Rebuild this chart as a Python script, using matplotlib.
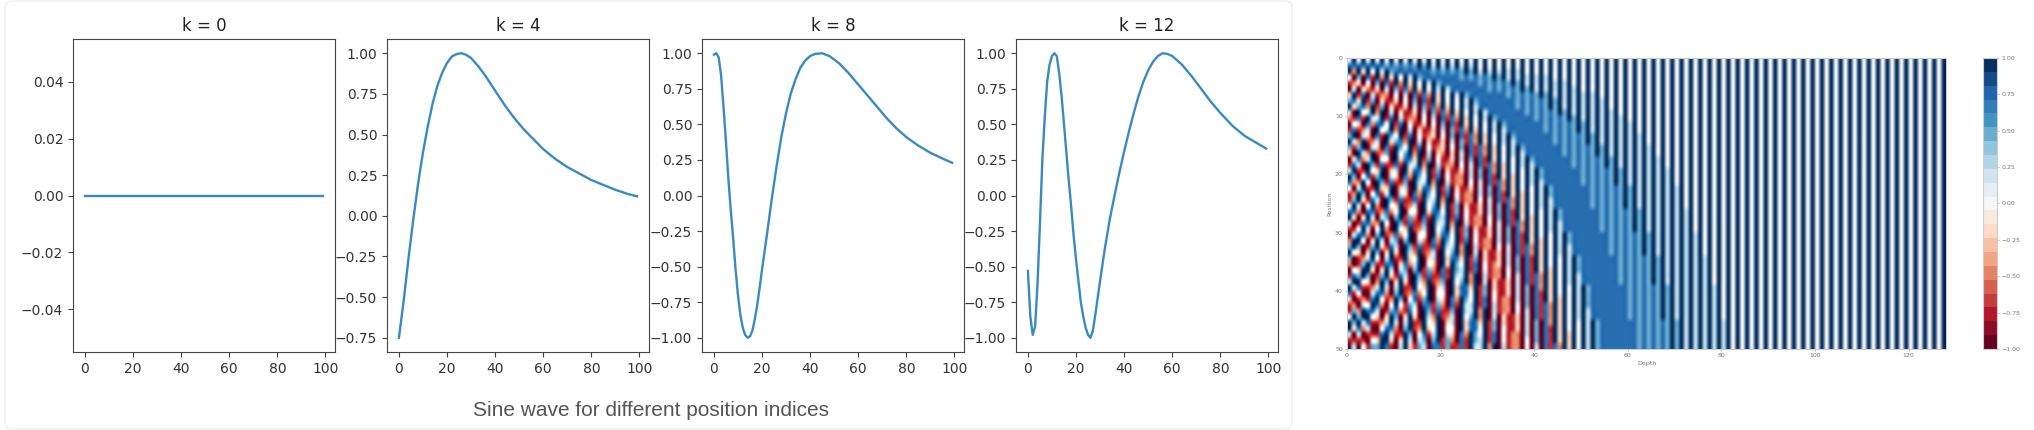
#!/usr/bin/env python
import numpy as np
import matplotlib
matplotlib.use("Agg")
import matplotlib.pyplot as plt
from matplotlib.cm import ScalarMappable
from matplotlib.colors import Normalize
from matplotlib.patches import FancyBboxPatch
from matplotlib.transforms import IdentityTransform

W, H = 2034, 430

# curves
x0 = [0, 99]
y0 = [0, 0]

x4 = [0, 2, 4, 6, 8, 10, 12, 14, 16, 18, 20, 22, 24, 26, 28, 30, 33, 36, 40, 44, 48, 52, 56, 60, 65, 70, 75, 80, 85, 90, 95, 99]
y4 = [-.75, -.52, -.26, -.02, .2, .39, .55, .69, .8, .88, .94, .98, .995, 1.0, .99, .97, .92, .86, .77, .68, .6, .53, .47, .41, .35, .3, .26, .22, .19, .16, .135, .12]

x8 = [0, 1, 2, 3, 4, 5, 6, 7, 8, 9, 10, 11, 12, 13, 14, 15, 16, 17, 18, 19, 20, 22, 24, 26, 28, 30, 32, 34, 36, 38, 40, 42, 45, 48, 52, 56, 60, 64, 68, 72, 76, 80, 85, 90, 95, 99]
y8 = [.99, 1, .97, .84, .62, .38, .12, -.1, -.3, -.52, -.7, -.84, -.93, -.98, -1, -.99, -.95, -.87, -.77, -.65, -.52, -.28, -.03, .2, .41, .58, .72, .82, .9, .95, .98, .995, 1, .98, .93, .86, .78, .7, .62, .54, .47, .41, .35, .3, .26, .23]

x12 = [0, 1, 2, 3, 4, 5, 6, 7, 8, 9, 10, 11, 12, 13, 14, 15, 16, 17, 18, 19, 20, 21, 22, 23, 24, 25, 26, 27, 28, 29, 30, 32, 34, 36, 38, 40, 42, 44, 46, 48, 50, 52, 54, 56, 58, 60, 64, 68, 72, 76, 80, 85, 90, 95, 99]
y12 = [-.53, -.85, -.98, -.92, -.62, -.2, .25, .55, .8, .92, .98, 1, .98, .86, .7, .5, .3, .1, -.08, -.28, -.45, -.6, -.75, -.85, -.93, -.98, -1, -.95, -.84, -.72, -.6, -.37, -.17, 0, .16, .31, .45, .58, .7, .8, .88, .94, .98, 1, .995, .98, .92, .84, .75, .66, .58, .49, .42, .37, .33]

curves = [("k = 0", x0, y0), ("k = 4", x4, y4), ("k = 8", x8, y8), ("k = 12", x12, y12)]
caption = "Sine wave for different position indices"

# heatmap cells as hand typed codes 0-8 (0 is -1, 4 is 0, 8 is 1), two columns per pair.
# rough estimate of the blurred picture, not an exact cell by cell read: the checker
# area on the left is approximate. each row goes on with band_tail, then white/navy stripes
band_tail = "77 77 77 77 67 67 67 68 68 58 58 58 58 58"
stripe_pair = "48"
heat_first_row = "48"
heat_rows = [
    "",
    "82 83 84 85 86",
    "40 60 71 82 83 84 85 86",
    "12 30 40 60 71 82 83 84 85 86",
    "05 03 21 30 50 61 72 83 84 85 85",
    "38 17 05 12 20 40 50 71 72 83 84 85 86",
    "67 38 16 03 11 30 40 60 71 83 84 84 85 86",
    "83 67 28 16 03 11 30 50 61 72 83 84 85 85",
    "50 84 58 28 05 03 11 30 50 61 72 83 84 85 85",
    "21 71 85 58 17 05 12 20 40 50 71 72 83 84 85 86",
    "04 30 72 77 48 17 04 11 30 40 60 71 83 84 84 85 86",
    "17 12 50 84 58 28 05 03 11 30 50 61 72 83 84 85 85",
    "68 05 30 71 86 48 17 04 12 30 40 60 71 72 83 84 85 86",
    "85 28 12 50 83 67 28 05 03 11 30 50 61 72 83 84 85 85",
    "61 68 05 30 71 86 48 17 04 12 30 40 60 71 72 83 84 85 86",
    "30 85 28 12 60 84 68 28 05 03 20 30 50 71 72 83 84 85 85",
    "03 72 58 04 40 83 77 38 16 04 11 30 50 60 71 83 84 84 85 86",
    "17 50 86 17 11 71 85 58 28 05 12 20 40 50 71 72 83 84 85 85",
    "58 11 84 38 03 50 83 77 38 16 03 11 30 50 60 72 83 84 84 85 86",
    "86 04 71 68 05 30 72 86 48 17 04 12 20 50 60 71 83 83 84 85 86",
    "72 28 40 86 17 11 60 85 58 28 05 12 20 40 50 71 72 83 84 85 85",
    "40 58 11 83 38 03 50 83 77 38 16 03 11 30 50 60 72 83 84 84 85 86",
    "12 86 04 71 58 05 30 72 86 48 17 04 12 20 50 60 71 83 83 84 85 86",
    "16 83 17 50 86 17 11 71 85 58 28 05 12 20 40 50 71 72 83 84 85 85",
    "48 50 48 20 84 38 12 50 84 68 38 16 03 11 30 50 60 72 83 84 85 85",
    "77 20 77 12 72 48 04 40 83 77 48 16 04 11 30 50 60 71 83 84 84 85 86",
    "83 03 85 05 60 68 16 20 71 86 58 17 04 12 20 40 60 71 83 83 84 85 86",
    "50 17 72 28 40 86 17 11 60 85 58 28 05 12 20 40 50 71 72 83 84 85 85",
    "11 48 50 48 20 84 38 12 50 84 68 38 16 03 11 30 50 60 72 83 84 85 85",
    "05 77 20 68 12 72 48 04 40 83 77 48 16 04 11 30 50 60 71 83 84 84 85 86",
    "28 84 03 85 05 60 68 05 20 72 86 48 17 04 12 20 50 60 71 83 83 84 85 86",
    "68 60 16 83 17 50 86 17 11 71 85 58 28 05 12 20 40 50 71 72 83 84 85 85",
    "84 30 38 60 38 30 85 28 12 50 84 68 28 05 03 11 30 50 71 72 83 84 85 85",
    "60 12 58 40 58 11 83 48 03 50 83 77 38 16 03 11 30 50 60 71 83 84 84 85 86",
    "20 16 86 11 77 03 72 58 04 30 83 86 48 17 04 12 30 50 60 71 83 84 84 85 86",
    "04 38 83 03 85 05 60 68 16 20 71 86 58 17 04 12 20 40 60 71 83 83 84 85 86",
    "17 68 60 16 83 17 50 86 17 11 71 85 58 28 05 12 20 40 50 71 72 83 84 85 85",
    "58 84 30 28 60 38 30 85 28 12 60 84 68 28 05 03 11 30 50 71 72 83 84 85 85",
    "85 71 12 58 50 58 11 84 38 03 50 83 77 38 16 03 11 30 50 60 72 83 84 84 85 86",
    "71 40 05 77 20 68 12 72 48 04 40 83 77 48 16 04 11 30 50 60 71 83 84 84 85 86",
    "30 12 17 84 12 86 04 71 68 05 30 72 86 48 17 04 12 20 50 60 71 83 83 84 85 86",
    "12 05 48 72 04 84 16 50 77 16 20 71 85 58 17 05 12 20 40 60 71 72 83 84 85 86",
    "16 28 77 50 16 72 17 40 86 17 11 60 85 58 28 05 12 20 40 50 71 72 83 84 85 85",
    "48 68 84 30 38 60 38 30 85 28 12 50 84 68 28 05 03 11 30 50 71 72 83 84 85 85",
    "86 85 71 12 58 50 58 11 84 38 03 50 83 77 38 16 03 11 30 50 60 72 83 84 84 85 86",
    "83 72 50 04 77 20 68 12 83 48 04 40 83 77 48 16 04 11 30 50 60 71 83 84 84 85 86",
    "50 50 11 17 85 11 86 04 71 58 05 30 72 86 48 17 04 12 20 50 60 71 83 83 84 85 86",
    "11 11 04 38 83 03 85 05 60 68 16 20 71 86 58 17 04 12 20 40 60 71 83 83 84 85 86",
    "05 04 16 68 71 05 83 16 50 77 16 11 71 85 58 28 05 12 20 40 50 71 72 83 84 85 86",
]

xticks_heat = [0, 20, 40, 60, 80, 100, 120]
yticks_heat = [0, 10, 20, 30, 40, 50]
cbar_ticks = [-1, -.75, -.5, -.25, 0, .25, .5, .75, 1]


def pxAxes(fig, left, top, right, bottom):
    return fig.add_axes([left/W, 1-bottom/H, (right-left)/W, (bottom-top)/H])


def heatMatrix():
    rows = [(heat_first_row+" ")*64]
    for row in heat_rows:
        rows.append(row+" "+band_tail+" "+(stripe_pair+" ")*64)
    cells = []
    for row in rows:
        pairs = row.split()[:64]
        cells.append([(int(c)-4)/4. for pair in pairs for c in pair])
    return np.array(cells)


def main():
    fig = plt.figure(figsize=(W/100., H/100.), dpi=100)

    # card behind the line charts
    card = FancyBboxPatch((5, 1), 1287, 428, boxstyle='round,pad=0,rounding_size=7',
                          transform=IdentityTransform(), fc='none', ec='#eeeeee', lw=1, zorder=-1)
    fig.add_artist(card)

    lefts = [73, 387, 702, 1016]
    for left, (title, xs, ys) in zip(lefts, curves):
        ax = pxAxes(fig, left, 39, left+262, 352)
        ax.plot(xs, ys, color='#3a8ac2', lw=1.7)
        ax.set_title(title, fontsize=12, color='#222222')
        ax.tick_params(labelsize=10, labelcolor='#333333', color='#444444')
        for spine in ax.spines.values():
            spine.set_color('#444444')

    fig.text(651/W, 1-410/H, caption, fontsize=15, color='#555555',
             family='Liberation Sans', ha='center', va='center')

    # heatmap, blended after colour mapping so it blurs like the resized picture
    ax = pxAxes(fig, 1347, 58, 1946, 349)
    ax.imshow(heatMatrix(), cmap='RdBu', vmin=-1, vmax=1, aspect='auto',
              interpolation='catrom', interpolation_stage='rgba',
              extent=[0, 128, 50, 0])
    ax.set_xticks(xticks_heat)
    ax.set_yticks(yticks_heat)
    ax.tick_params(labelsize=4.5, labelcolor='#777777', color='#aaaaaa', length=1.5, width=.5, pad=1.5)
    ax.set_xlabel('Depth', fontsize=4.5, color='#777777', labelpad=2)
    ax.set_ylabel('Position', fontsize=4.5, color='#777777', labelpad=2)
    for spine in ax.spines.values():
        spine.set_color('#cccccc')

    # colorbar is stepped in the reference
    cax = pxAxes(fig, 1983, 58, 1997, 349)
    mappable = ScalarMappable(norm=Normalize(-1, 1), cmap=plt.get_cmap('RdBu', 21))
    cbar = fig.colorbar(mappable, cax=cax, ticks=cbar_ticks)
    cbar.ax.set_yticklabels(['%.2f'%t if t >= 0 else '\u2212%.2f'%abs(t) for t in cbar_ticks])
    cbar.ax.tick_params(labelsize=4.5, labelcolor='#777777', color='#aaaaaa', length=1.5, width=.5, pad=1.5)
    cbar.outline.set_edgecolor('#cccccc')

    fig.savefig('out.png', dpi=100, facecolor='white')


if __name__ == "__main__":
    main()
